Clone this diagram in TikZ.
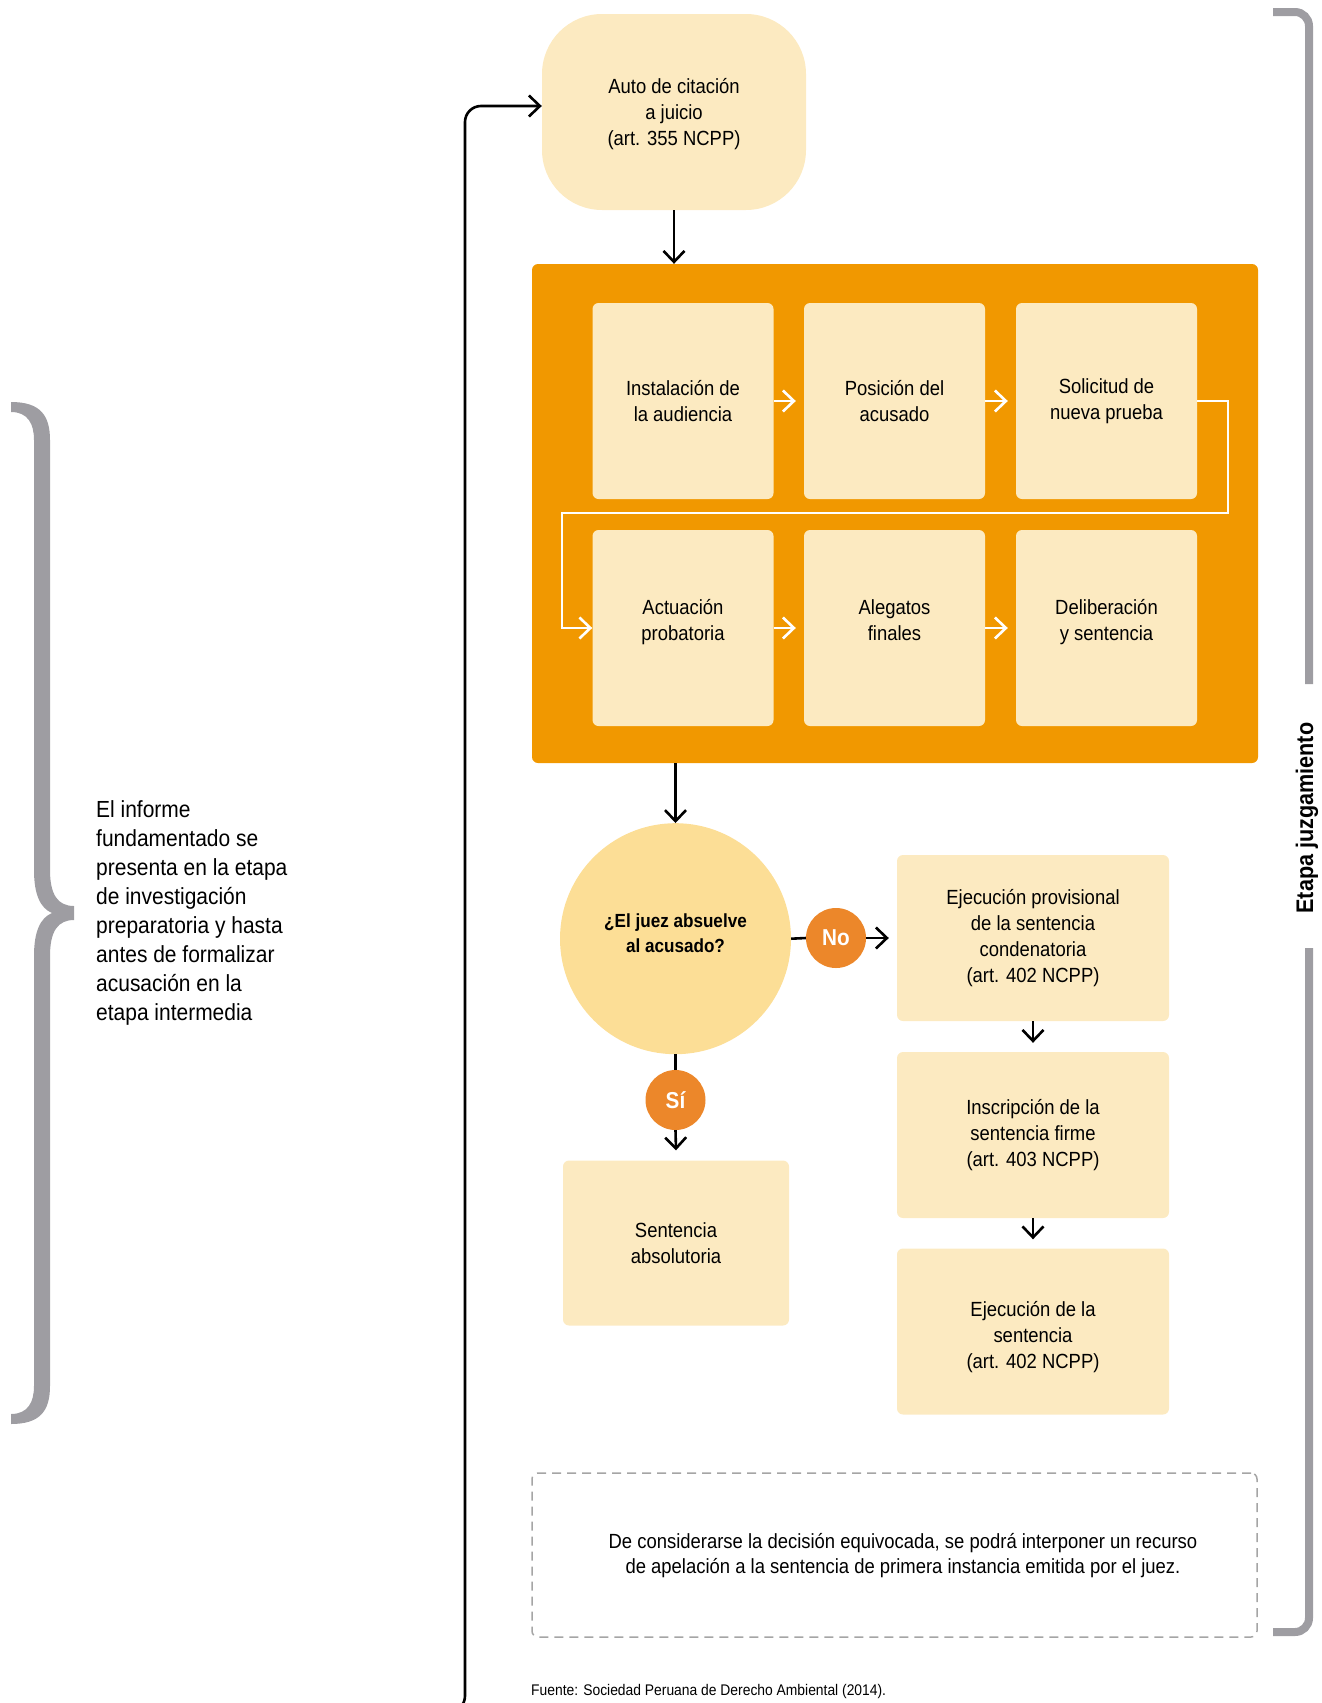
\documentclass[tikz,border=0pt]{standalone}
\usepackage{fontspec}
\setmainfont[FakeStretch=0.9]{Liberation Sans}
\usetikzlibrary{arrows.meta}
\definecolor{orangeb}{RGB}{241,152,0}
\definecolor{creamc}{RGB}{252,234,193}
\definecolor{circc}{RGB}{252,222,150}
\definecolor{badgec}{RGB}{236,135,42}
\definecolor{grayb}{RGB}{158,157,162}
\definecolor{dashc}{RGB}{165,165,165}
\begin{document}
\begin{tikzpicture}[x=1pt,y=-1pt,
  box/.style={fill=creamc, rounded corners=6pt, minimum width=181pt, minimum height=196pt, inner sep=0pt, align=center, font=\fontsize{20.5}{26}\selectfont},
  boxlow/.style={box, text depth=16pt},
  gbox/.style={fill=creamc, rounded corners=6pt, minimum width=272pt, minimum height=166pt, inner sep=0pt, align=center, font=\fontsize{20.5}{26}\selectfont},
  arr/.style={-{Straight Barb[length=11pt,width=21pt]}, line width=2.6pt, black},
  warr/.style={-{Straight Barb[length=11pt,width=21pt]}, line width=2.6pt, white},
  plain/.style={line width=2.6pt, black},
  badge/.style={circle, fill=badgec, minimum size=60pt, inner sep=0pt, text=white, font=\fontsize{23}{23}\selectfont\bfseries},
  grayline/.style={draw=grayb, line width=8pt, rounded corners=14pt},
]
\useasboundingbox (0,0) rectangle (1322,1703);

% left curly brace
\fill[grayb] (11,402) .. controls (40,402) and (50,415) .. (50,440) -- (50,870)
  .. controls (50,895) and (58,906) .. (74,906) -- (74,920)
  .. controls (58,920) and (50,931) .. (50,956) -- (50,1386)
  .. controls (50,1411) and (40,1424) .. (11,1424) -- (11,1414)
  .. controls (28,1414) and (34,1402) .. (34,1386) -- (34,956)
  .. controls (34,932) and (40,918) .. (52,913)
  .. controls (40,908) and (34,894) .. (34,870) -- (34,440)
  .. controls (34,424) and (28,412) .. (11,412) -- cycle;

\node[anchor=west, align=left, inner sep=0pt, font=\fontsize{23.3}{28.9}\selectfont] (info) at (96,913)
  {El informe\\fundamentado se\\presenta en la etapa\\de investigación\\preparatoria y hasta\\antes de formalizar\\acusación en la\\etapa intermedia};

% right bracket
\coordinate (rb1) at (1273,12);
\coordinate (rb2) at (1309,684);
\coordinate (rb3) at (1309,948);
\coordinate (rb4) at (1273,1632);
\draw[grayline] (rb1) -- (rb1 -| rb2) -- (rb2);
\draw[grayline] (rb3) -- (rb3 |- rb4) -- (rb4);
\node[rotate=90, inner sep=0pt, font=\fontsize{24}{24}\selectfont\bfseries] (etapa) at (1307,818) {Etapa juzgamiento};

% top box
\node[fill=creamc, rounded corners=60pt, minimum width=264pt, minimum height=196pt, inner sep=0pt, align=center, text height=72pt, font=\fontsize{20.5}{26}\selectfont] (auto) at (674,112)
  {Auto de citación\\a juicio\\(art. 355 NCPP)};

% orange box
\node[fill=orangeb, rounded corners=6pt, minimum width=726pt, minimum height=499pt, inner sep=0pt] (big) at (895,513.5) {};

\node[box] (b1) at (683,401) {Instalación de\\la audiencia};
\node[box] (b2) at (894.5,401) {Posición del\\acusado};
\node[box] (b3) at (1106.5,401) {Solicitud de\\nueva prueba};
\node[boxlow] (b4) at (683,628) {Actuación\\probatoria};
\node[boxlow] (b5) at (894.5,628) {Alegatos\\finales};
\node[boxlow] (b6) at (1106.5,628) {Deliberación\\y sentencia};

\draw[warr] (b1.east) -- ([xshift=-8pt]b2.west);
\draw[warr] (b2.east) -- ([xshift=-8pt]b3.west);
\draw[warr] (b4.east) -- ([xshift=-8pt]b5.west);
\draw[warr] (b5.east) -- ([xshift=-8pt]b6.west);
\coordinate (s1) at (1228,513);
\coordinate (s2) at (562,513);
\draw[warr] (b3.east) -| (s1) -- (s2) |- (b4.west);

% loop line on the left
\coordinate (loopstart) at (440,1712);
\draw[arr, rounded corners=16pt] (loopstart) -- (465,1712) -- (465,106) -- ([yshift=6pt]auto.west);

\draw[arr] (auto.south) -- (auto.south |- big.north);

% decision
\node[circle, fill=circc, minimum size=231pt, inner sep=0pt, align=center, text depth=12pt, font=\fontsize{19}{25}\selectfont\bfseries] (circ) at (675.5,938.7)
  {¿El juez absuelve\\al acusado?};
\draw[arr] (circ.north |- big.south) -- (circ.north);

\node[badge] (no) at (836,938) {No};
\node[badge] (si) at (675.5,1100) {Sí};

\node[gbox] (e1) at (1033,938) {Ejecución provisional\\de la sentencia\\condenatoria\\(art. 402 NCPP)};
\node[gbox] (e2) at (1033,1135) {Inscripción de la\\sentencia firme\\(art. 403 NCPP)};
\node[gbox, text height=78pt] (e3) at (1033,1331.5) {Ejecución de la\\sentencia\\(art. 402 NCPP)};
\node[fill=creamc, rounded corners=6pt, minimum width=226pt, minimum height=165pt, inner sep=0pt, align=center, font=\fontsize{20.5}{26}\selectfont] (sa) at (676,1243) {Sentencia\\absolutoria};

\draw[plain] (circ.east) -- (no.west);
\draw[arr] (no.east) -- ([xshift=-8pt]e1.west);
\draw[plain] (circ.south) -- (si.north);
\draw[arr] (si.south) -- ([yshift=10pt]sa.north);
\draw[arr] (e1.south) -- ([yshift=9pt]e2.north);
\draw[arr] (e2.south) -- ([yshift=9pt]e3.north);

% dashed note
\node[draw=dashc, line width=1.5pt, dash pattern=on 9pt off 6pt, rounded corners=6pt, minimum width=725pt, minimum height=164pt, inner sep=0pt] (note) at (894.5,1555) {};
\node[align=center, inner sep=0pt, font=\fontsize{20.5}{25}\selectfont] (notetext) at (903,1556)
  {De considerarse la decisión equivocada, se podrá interponer un recurso\\de apelación a la sentencia de primera instancia emitida por el juez.};

\node[anchor=west, inner sep=0pt, font=\fontsize{15.4}{18}\selectfont] (fuente) at (531,1691) {Fuente: Sociedad Peruana de Derecho Ambiental (2014).};
\end{tikzpicture}
\end{document}
